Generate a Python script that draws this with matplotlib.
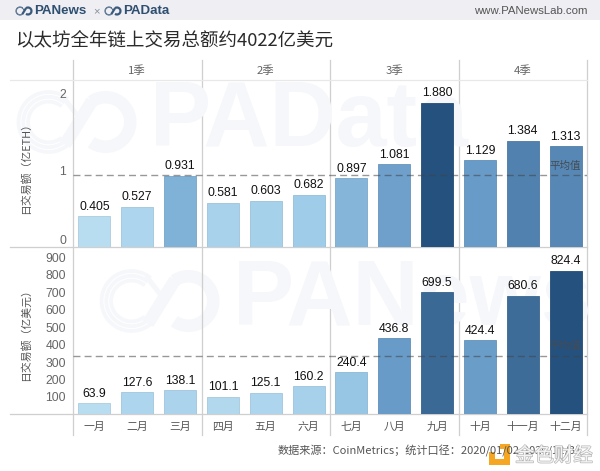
import matplotlib
matplotlib.use("Agg")
import matplotlib.pyplot as plt
from matplotlib.colors import LinearSegmentedColormap, Normalize
from matplotlib.patches import Arc, Rectangle
import matplotlib.patheffects as pe

plt.rcParams['font.family'] = ['Noto Sans CJK SC', 'DejaVu Sans']

months = ["一月", "二月", "三月", "四月", "五月", "六月", "七月", "八月", "九月", "十月", "十一月", "十二月"]
quarters = ["1季", "2季", "3季", "4季"]
eth_volume = [0.405, 0.527, 0.931, 0.581, 0.603, 0.682, 0.897, 1.081, 1.880, 1.129, 1.384, 1.313]
usd_volume = [63.9, 127.6, 138.1, 101.1, 125.1, 160.2, 240.4, 436.8, 699.5, 424.4, 680.6, 824.4]
eth_avg = 0.944
usd_avg = 336
eth_ticks = [0, 1, 2]
usd_ticks = [100, 200, 300, 400, 500, 600, 700, 800, 900]

W, H = 600, 471
LEFT, RIGHT = 73, 587
TOP, MID, BOTTOM = 80, 247.3, 414.3
NUM_FONT = ['Liberation Sans', 'Noto Sans CJK SC']
blues = LinearSegmentedColormap.from_list(
    "pa_blues", [(0, "#b8dcf0"), (0.2, "#9dcbe8"), (0.5, "#6699c6"), (1, "#25517e")])


def panel(y_top, y_bottom):
    ax = fig.add_axes([LEFT / W, 1 - y_bottom / H, (RIGHT - LEFT) / W, (y_bottom - y_top) / H])
    ax.patch.set_visible(False)
    for s in ax.spines.values():
        s.set_visible(False)
    ax.set_xlim(-0.5, 11.5)
    return ax


def draw_bars(ax, values, fmt, avg, avg_y_offset):
    norm = Normalize(min(values), max(values))
    colors = [blues(norm(v)) for v in values]
    edges = [tuple(c * 0.93 for c in col[:3]) for col in colors]
    ax.bar(range(12), values, width=0.75, color=colors, edgecolor=edges, linewidth=0.6, zorder=2)
    for i, v in enumerate(values):
        ax.annotate(format(v, fmt), (i, v), xytext=(0, 2.5), textcoords="offset points",
                    ha="center", va="bottom", fontsize=8.8, color="#111111", family=NUM_FONT, zorder=4)
    ax.axhline(avg, color="#444444", alpha=0.55, lw=1.0, dashes=(5, 3), zorder=3)
    ax.annotate("平均值", (11, avg), xytext=(0, avg_y_offset), textcoords="offset points",
                ha="center", va="center", fontsize=7.6, color="#444c55", zorder=4)


def draw_logo(ax, cx, cy, r, color, lw, rings=3):
    # rings on the left, solid loop on the right
    for k in range(rings):
        rad = r * (1 - 0.16 * k)
        ax.add_patch(Arc((cx - r * 0.95, cy), 2 * rad, 2 * rad, theta1=50, theta2=310,
                         color=color, lw=lw * 0.3))
    ax.add_patch(Arc((cx + r * 0.95, cy), 1.65 * r, 1.65 * r, theta1=-125, theta2=125,
                     color=color, lw=lw))
    ax.plot([cx - r * 0.4, cx + r * 0.5], [cy + r * 0.75, cy - r * 0.7], color=color, lw=lw, solid_capstyle="butt")
    ax.plot([cx - r * 0.4, cx - r * 0.05], [cy - r * 0.75, cy - r * 0.3], color=color, lw=lw * 0.4)


fig = plt.figure(figsize=(W / 100, H / 100), dpi=100, facecolor="white")

# everything that is not data goes on a full figure layer in pixels
bg = fig.add_axes([0, 0, 1, 1], zorder=-1)
bg.set_xlim(0, W)
bg.set_ylim(H, 0)
bg.axis("off")

bg.add_patch(Rectangle((0, 0), W, 20, color="#eeeef3", lw=0))
draw_logo(bg, 24, 11, 4.2, "#3a5a7c", 1.6, rings=2)
bg.text(34, 11, "PANews", fontsize=9.6, weight="bold", color="#2f4f70", family=NUM_FONT, va="center")
bg.text(96, 11, "×", fontsize=8, color="#8a8f99", family=NUM_FONT, va="center", ha="center")
draw_logo(bg, 113, 11, 4.2, "#3a5a7c", 1.6, rings=2)
bg.text(123, 11, "PAData", fontsize=9.6, weight="bold", color="#2f4f70", family=NUM_FONT, va="center")
bg.text(588, 11, "www.PANewsLab.com", fontsize=8.2, color="#555555", family=NUM_FONT, va="center", ha="right")
bg.text(15, 40, "以太坊全年链上交易总额约4022亿美元", fontsize=13.3, color="#2b2b2b", va="center")

# watermarks
wm = "#f6f7fa"
draw_logo(bg, 77, 122, 30, wm, 9)
bg.text(150, 122, "PAData", fontsize=66, weight="bold", color=wm, family=NUM_FONT, va="center")
draw_logo(bg, 160, 301, 30, wm, 9)
bg.text(233, 301, "PANews", fontsize=66, weight="bold", color=wm, family=NUM_FONT, va="center")

# table grid
for x in [LEFT, 202, 330, 459, RIGHT]:
    bg.plot([x, x], [60, 435], color="#cfcfcf", lw=0.9)
bg.plot([10, RIGHT], [TOP, TOP], color="#e8e8e8", lw=0.9)
bg.plot([10, RIGHT], [MID, MID], color="#cfcfcf", lw=0.9)
bg.plot([10, RIGHT], [BOTTOM, BOTTOM], color="#cfcfcf", lw=0.9)

bg.text(26, 165, "日交易额（亿ETH）", rotation=90, fontsize=7.8, color="#555555", ha="center", va="center")
bg.text(26, 332, "日交易额（亿美元）", rotation=90, fontsize=7.8, color="#555555", ha="center", va="center")

# footer
bg.text(278, 451, "数据来源：CoinMetrics；统计口径：2020/01/02-2020/12/31", fontsize=8, color="#555555", va="center")
bg.add_patch(Rectangle((489, 452), 21, 13, color="#f5a623", lw=0))
bg.add_patch(Rectangle((500, 444), 10, 21, color="#f5a623", lw=0))
bg.add_patch(Rectangle((495, 449), 9, 10, color="white", lw=0))
bg.text(515, 456, "金色财经", fontsize=14, color="#f4f4f4", va="center",
        path_effects=[pe.withStroke(linewidth=1.0, foreground="#b8b8b8")])

ax1 = panel(TOP, MID)
ax2 = panel(MID, BOTTOM)
ax1.set_ylim(0, (MID - TOP) / 76.9)
ax2.set_ylim(0, (BOTTOM - MID) / 0.1742)

draw_bars(ax1, eth_volume, ".3f", eth_avg, 6)
draw_bars(ax2, usd_volume, ".1f", usd_avg, 7)

ax1.set_xticks([])
ax1.set_yticks(eth_ticks)
ax1.set_yticklabels([str(t) for t in eth_ticks], family=NUM_FONT)
ax1.tick_params(axis="y", length=0, pad=5, labelsize=8.8, labelcolor="#666666")
ax1.get_yticklabels()[0].set_va("bottom")

ax2.set_yticks(usd_ticks)
ax2.set_yticklabels([str(t) for t in usd_ticks], family=NUM_FONT)
ax2.tick_params(axis="y", length=0, pad=5, labelsize=8.8, labelcolor="#666666")
ax2.set_xticks(range(12))
ax2.set_xticklabels(months)
ax2.tick_params(axis="x", length=0, pad=5.5, labelsize=7.8, labelcolor="#555555")

for i, q in enumerate(quarters):
    ax1.text(1 + 3 * i, 1.0 + 4 / (MID - TOP), q, transform=ax1.get_xaxis_transform(), ha="center", va="bottom",
             fontsize=8.2, color="#666666")

fig.savefig("out.png", dpi=100, facecolor="white")
